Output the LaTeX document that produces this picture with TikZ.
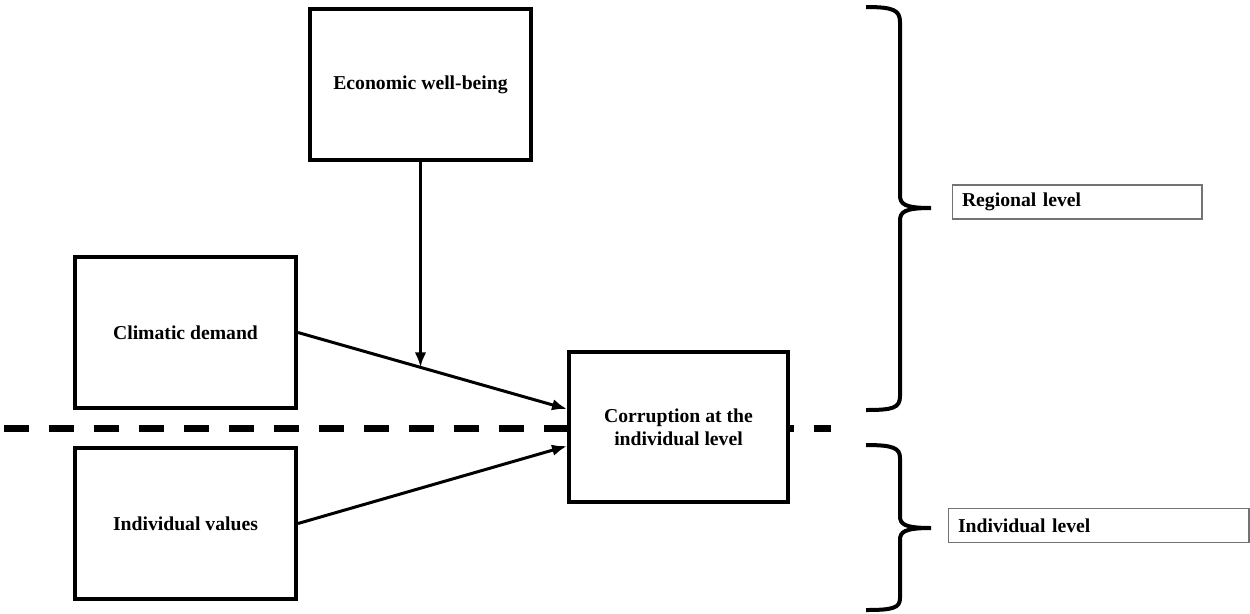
\documentclass[tikz,border=0pt]{standalone}
\usepackage{fontspec}
\setmainfont{Liberation Serif}
\usetikzlibrary{arrows.meta}

\begin{document}
\begin{tikzpicture}[x=0.02cm,y=-0.02cm,
box/.style={draw,line width=0.08cm,fill=white,minimum width=4.42cm,minimum height=3.04cm,align=center,font=\fontsize{11.2}{13}\selectfont\bfseries},
lvl/.style={draw=black!55,line width=0.6pt,fill=white,align=left,inner xsep=0.2cm,minimum height=0.68cm,font=\fontsize{11.2}{13}\selectfont\bfseries},
arr/.style={line width=0.06cm,-{Latex[length=0.3cm,width=0.23cm]}},
lbrace/.style={line width=0.08cm}]
\useasboundingbox (0,0) rectangle (1250,613);
\draw[line width=0.14cm,dash pattern=on 0.5cm off 0.4cm] (4,428) -- (831,428);
\node[box] (v1) at (420.5,84.5) {Economic well-being};
\node[box] (v2) at (185.5,332.5) {Climatic demand};
\node[box] (v3) at (185.5,523.5) {Individual values};
\node[box,minimum width=4.38cm,minimum height=3cm] (v4) at (678.5,427) {Corruption at the\\individual level};
\node[lvl,text width=4.6cm] (v5) at (1077,202) {Regional level};
\node[lvl,text width=5.62cm] (v6) at (1098.5,525.5) {Individual level};
\draw[arr] (v2.east) -- coordinate[pos=0.457] (m1) ([yshift=0.36cm]v4.west);
\draw[arr] (v3.east) -- ([yshift=-0.38cm]v4.west);
\draw[arr] (v1.south) -- (v1.south |- m1);
%braces
\draw[lbrace] (866,7) .. controls (893,7) and (900,10) .. (900,22) -- (900,195) .. controls (900,204) and (904,208) .. (931,208) .. controls (904,208) and (900,212) .. (900,221) -- (900,396) .. controls (900,408) and (893,410) .. (866,410);
\draw[lbrace] (866,445) .. controls (893,445) and (900,448) .. (900,458) -- (900,516) .. controls (900,524) and (904,528) .. (931,528) .. controls (904,528) and (900,532) .. (900,540) -- (900,598) .. controls (900,608) and (893,610) .. (866,610);
\end{tikzpicture}
\end{document}
